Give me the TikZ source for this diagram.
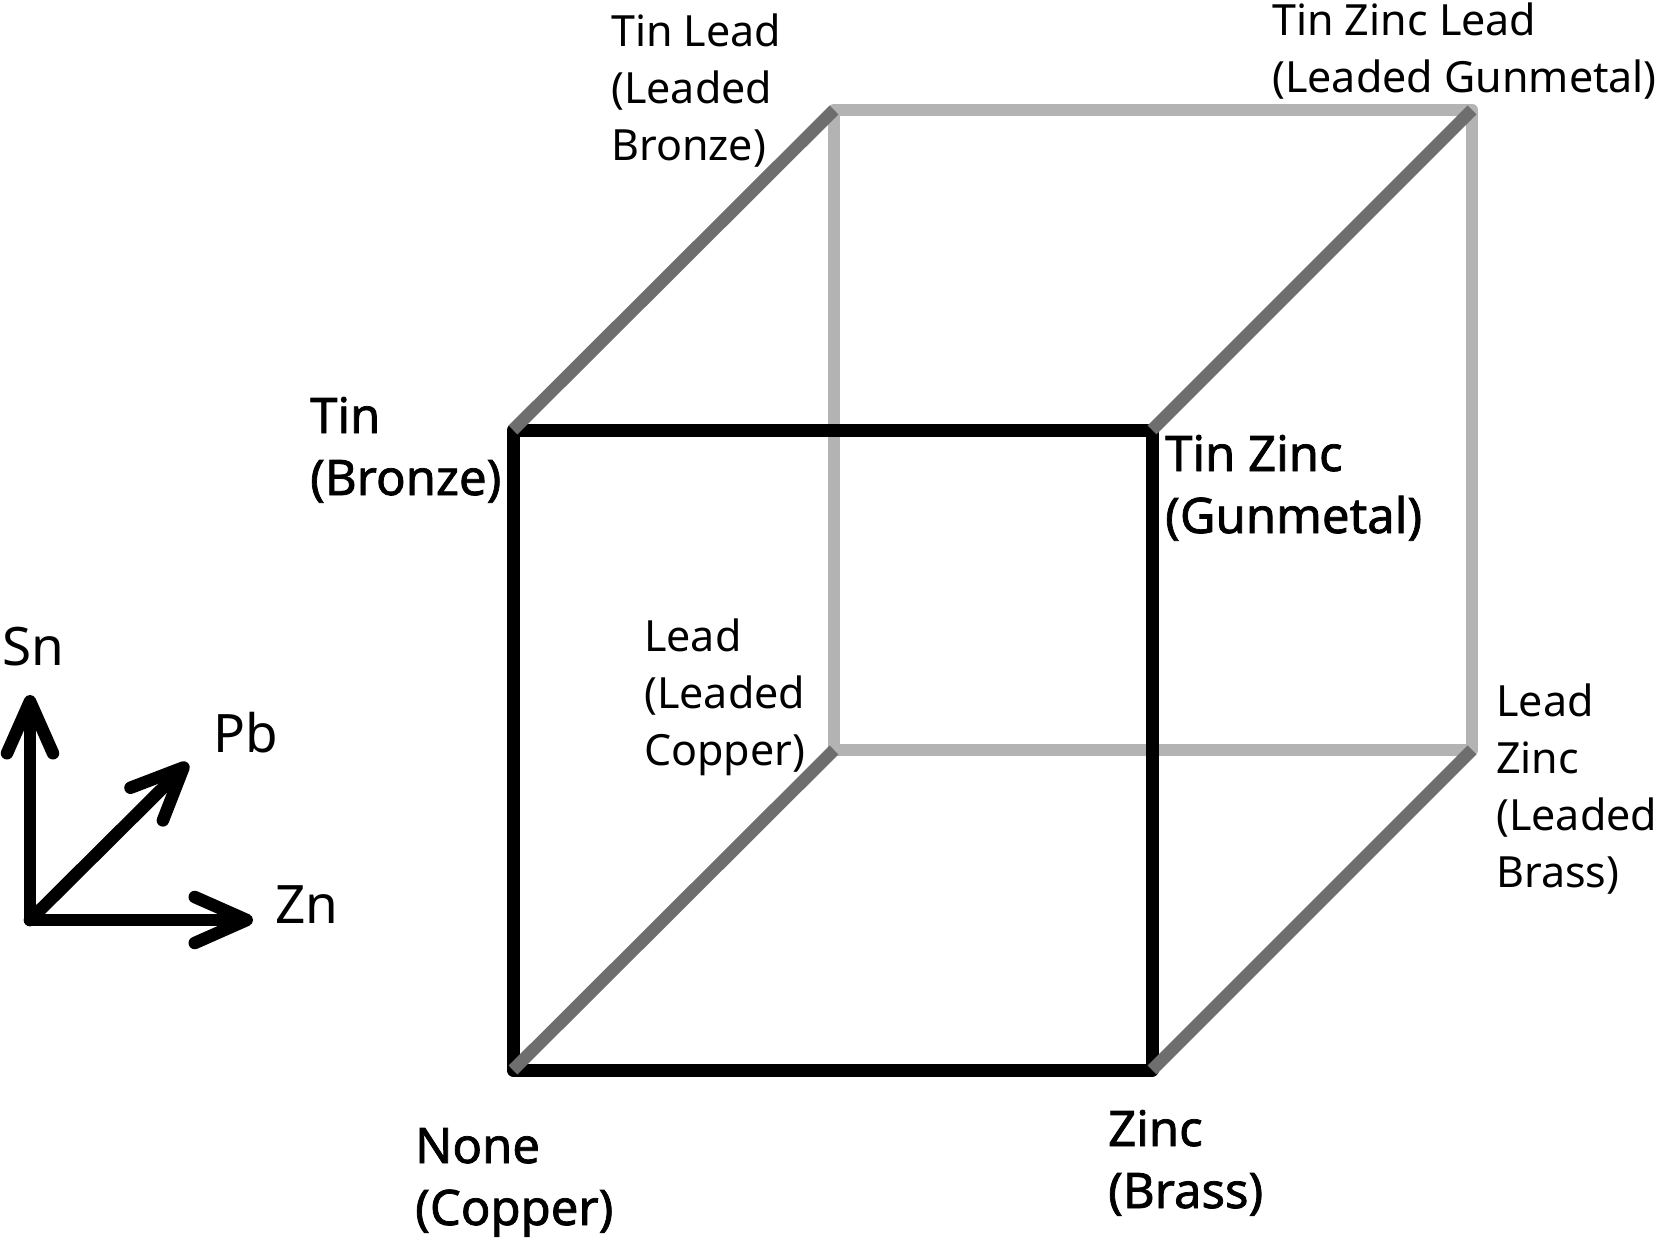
\documentclass[tikz,border=0pt]{standalone}
\usepackage{fontspec}
\setmainfont{Noto Sans}
\newfontfamily\semib{Noto Sans}[FakeBold=1.5]
\usetikzlibrary{arrows.meta}
\definecolor{dgray}{HTML}{6E6E6E}
\definecolor{lgray}{HTML}{B3B3B3}
\begin{document}
\begin{tikzpicture}[x=1pt,y=-1pt,
  lab/.style={anchor=base west, inner sep=0pt, align=left, font=\fontsize{43}{57}\selectfont},
  blab/.style={anchor=base west, inner sep=0pt, align=left, font=\semib\fontsize{49}{62}\selectfont},
  axlab/.style={anchor=base west, inner sep=0pt, font=\fontsize{53}{64}\selectfont},
  backedge/.style={draw=lgray, line width=12.5pt, line join=round},
  frontedge/.style={draw=black, line width=13pt, line join=round},
  depthedge/.style={draw=dgray, line width=12.5pt},
  axisarrow/.style={draw=black, line width=12.5pt, line cap=round,
    -{Straight Barb[length=52pt,width=46pt,line cap=round,line join=round]}}]
\useasboundingbox (0,0) rectangle (1657,1237);
% cube corners
\coordinate (f1) at (513,430);
\coordinate (f2) at (1152,430);
\coordinate (f3) at (1152,1070);
\coordinate (f4) at (513,1070);
\coordinate (b1) at (834,110);
\coordinate (b2) at (1472,110);
\coordinate (b3) at (1472,750);
\coordinate (b4) at (834,750);
% back face
\draw[backedge] (b1) -- (b2) -- (b3) -- (b4) -- cycle;
% front face
\draw[frontedge] (f1) -- (f2) -- (f3) -- (f4) -- cycle;
% depth edges
\draw[depthedge] (f1) -- (b1);
\draw[depthedge] (f2) -- (b2);
\draw[depthedge] (f3) -- (b3);
\draw[depthedge] (f4) -- (b4);
% labels (anchor = baseline of last line)
\node[lab] (tl) at (611,160) {Tin Lead\\(Leaded\\Bronze)};
\node[lab] (tzl) at (1272,92) {Tin Zinc Lead\\(Leaded Gunmetal)};
\node[blab] (t) at (310,495) {Tin\\(Bronze)};
\node[blab] (tz) at (1165,533) {Tin Zinc\\(Gunmetal)};
\node[lab] (l) at (644,765) {Lead\\(Leaded\\Copper)};
\node[lab] (lz) at (1496,887) {Lead\\Zinc\\(Leaded\\Brass)};
\node[blab] (n) at (415,1225) {None\\(Copper)};
\node[blab] (z) at (1108,1208) {Zinc\\(Brass)};
% axes
\coordinate (o) at (30,920);
\coordinate (sn) at (30,695);
\coordinate (zn) at (253,920);
\coordinate (pb) at (188,763);
\draw[axisarrow] (o) -- (sn);
\draw[axisarrow] (o) -- (zn);
\draw[axisarrow] (o) -- (pb);
\node[axlab] (snl) at (2,665) {Sn};
\node[axlab] (pbl) at (213,752) {Pb};
\node[axlab] (znl) at (275,923) {Zn};
\end{tikzpicture}
\end{document}
